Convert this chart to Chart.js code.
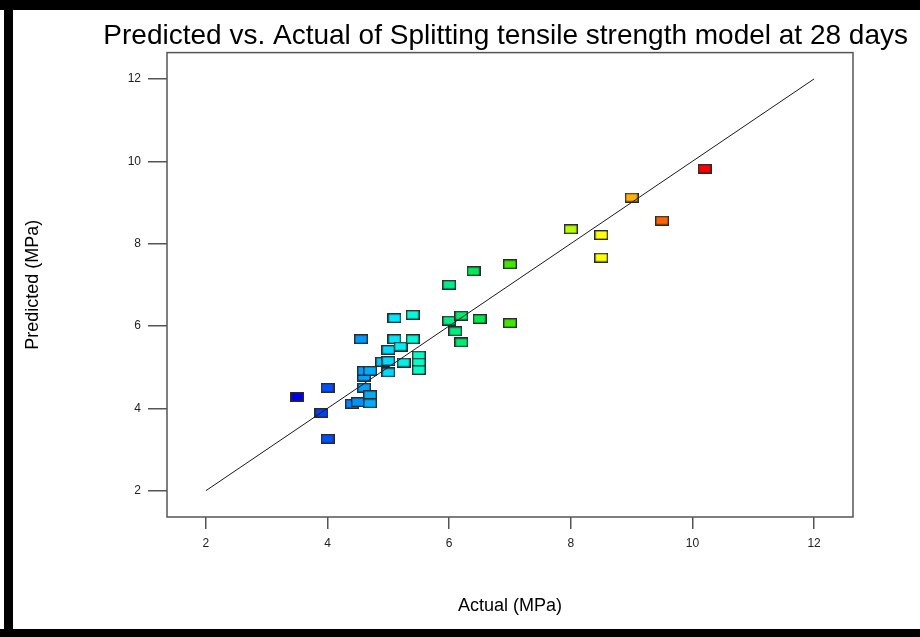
<!DOCTYPE html>
<html>
<head>
<meta charset="utf-8">
<script src="https://cdn.jsdelivr.net/npm/chart.js@4/dist/chart.umd.min.js"></script>
<style>
	body { margin:0; background:#fff; }
	#wrap { position:relative; width:920px; height:637px; overflow:hidden; }
	#wrap canvas { position:absolute; left:0; top:0; }
	.band { position:absolute; background:#000; pointer-events:none; }
</style>
</head>
<body>
<div id="wrap">
	<canvas id="fitChart" width="920" height="637"></canvas>
	<div class="band" style="left:0;top:0;width:920px;height:10px"></div>
	<div class="band" style="left:4px;top:0;width:9px;height:637px"></div>
	<div class="band" style="left:0;top:629px;width:920px;height:8px"></div>
</div>
<script>
var actual = [
	3.5, 3.9, 4.0, 4.0, 4.4, 4.5, 4.6, 4.6, 4.6, 4.55,
	4.7, 4.7, 4.7, 4.9, 5.0, 5.0, 5.0, 5.1, 5.1, 5.2,
	5.25, 5.4, 5.4, 5.5, 5.5, 5.5, 6.0, 6.0, 6.1, 6.2,
	6.2, 6.4, 6.5, 7.0, 7.0, 8.0, 8.5, 8.5, 9.0, 9.5,
	10.2
]
var predicted = [
	4.28, 3.89, 4.5, 3.26, 4.11, 4.15, 4.5, 4.77, 4.91, 5.68,
	4.91, 4.32, 4.12, 5.13, 5.15, 4.87, 5.42, 5.68, 6.19, 5.5,
	5.11, 6.27, 5.68, 5.28, 5.11, 4.93, 7.0, 6.13, 5.87, 5.6,
	6.25, 7.33, 6.17, 7.5, 6.07, 8.35, 8.21, 7.66, 9.12, 8.56,
	9.82
]
var fitLine = [2, 12]
var xTicks = [2, 4, 6, 8, 10, 12]
var yTicks = [2, 4, 6, 8, 10, 12]
var axisMin = 1.36
var axisMax = 12.64

// rainbow scale, coloured by the actual value
var colorStops = [
	[3.5,'#0000e0'], [4.0,'#0050ff'], [4.6,'#00a0ff'], [5.1,'#00e8ff'],
	[5.5,'#00ffc8'], [6.0,'#00ef8a'], [6.5,'#00e84a'], [7.0,'#3ee600'],
	[8.0,'#b4ff00'], [8.5,'#ffff00'], [9.0,'#ffb000'], [9.5,'#ff6400'],
	[10.2,'#ff0000']
]

function hexRgb( h ) {
	return [ parseInt(h.substr(1,2),16), parseInt(h.substr(3,2),16), parseInt(h.substr(5,2),16) ]
}

function rampColor( v ) {
	if( v <= colorStops[0][0] ) return colorStops[0][1]
	for( var i = 1; i < colorStops.length; i++ ) {
		if( v <= colorStops[i][0] ) {
			var a = hexRgb(colorStops[i-1][1]), b = hexRgb(colorStops[i][1])
			var t = (v - colorStops[i-1][0]) / (colorStops[i][0] - colorStops[i-1][0])
			return 'rgb(' + Math.round(a[0]+(b[0]-a[0])*t) + ',' + Math.round(a[1]+(b[1]-a[1])*t) + ',' + Math.round(a[2]+(b[2]-a[2])*t) + ')'
		}
	}
	return colorStops[colorStops.length-1][1]
}

// small rectangle marker
function rectMarker( color ) {
	var c = document.createElement('canvas')
	c.width = 14
	c.height = 10
	var g = c.getContext('2d')
	g.fillStyle = color
	g.fillRect(0, 0, 14, 10)
	g.strokeStyle = '#2a2a2a'
	g.lineWidth = 1.4
	g.strokeRect(0.7, 0.7, 12.6, 8.6)
	return c
}

var points = []
var markers = []
for( var i = 0; i < actual.length; i++ ) {
	points.push({ x:actual[i], y:predicted[i] })
	markers.push( rectMarker(rampColor(actual[i])) )
}

// box round the plot area
var frame = {
	id: 'frame',
	afterDraw: function( chart ) {
		var a = chart.chartArea, g = chart.ctx
		g.save()
		g.strokeStyle = '#555'
		g.lineWidth = 1.5
		g.strokeRect(a.left, a.top, a.right - a.left, a.bottom - a.top)
		g.restore()
	}
}

var tickFont = { family:'"Liberation Sans", Arial, sans-serif', size:12 }
var titleFont = { family:'"Liberation Sans", Arial, sans-serif', size:18 }

new Chart( document.getElementById('fitChart'), {
	type: 'scatter',
	data: {
		datasets: [
			{
				label: 'fit',
				data: [ { x:fitLine[0], y:fitLine[0] }, { x:fitLine[1], y:fitLine[1] } ],
				showLine: true,
				borderColor: '#1a1a1a',
				borderWidth: 1,
				pointRadius: 0,
				order: 0
			}, {
				label: 'points',
				data: points,
				pointStyle: markers,
				pointRadius: 6,
				order: 1
			}
		]
	},
	options: {
		responsive: false,
		animation: false,
		devicePixelRatio: 1,
		layout: { padding: { left:0, right:12, top:0, bottom:0 } },
		plugins: {
			legend: { display:false },
			tooltip: { enabled:false },
			title: {
				display: true,
				text: 'Predicted vs. Actual of Splitting tensile strength model at 28 days',
				align: 'end',
				color: '#000',
				font: { family:'"Liberation Sans", Arial, sans-serif', size:28, weight:'normal' },
				padding: { top:19, bottom:0 }
			}
		},
		scales: {
			x: {
				type: 'linear',
				min: axisMin,
				max: axisMax,
				afterBuildTicks: function( s ) { s.ticks = xTicks.map(function(v){ return { value:v } }) },
				afterFit: function( s ) { s.height = 120 },
				grid: { drawOnChartArea:false, drawTicks:true, tickLength:12, color:'#555', lineWidth:1.5 },
				border: { display:false },
				ticks: { color:'#222', font:tickFont, padding:7 },
				title: { display:true, text:'Actual (MPa)', color:'#000', font:titleFont, padding:{ top:0, bottom:20 } }
			},
			y: {
				type: 'linear',
				min: axisMin,
				max: axisMax,
				afterBuildTicks: function( s ) { s.ticks = yTicks.map(function(v){ return { value:v } }) },
				afterFit: function( s ) { s.width = 167 },
				grid: { drawOnChartArea:false, drawTicks:true, tickLength:19, color:'#555', lineWidth:1.5 },
				border: { display:false },
				ticks: { color:'#222', font:tickFont, padding:7 },
				title: { display:true, text:'Predicted (MPa)', color:'#000', font:titleFont, padding:{ top:22, bottom:0 } }
			},
			y2: {
				type: 'linear',
				position: 'right',
				display: true,
				afterFit: function( s ) { s.width = 55 },
				grid: { display:false, drawTicks:false },
				border: { display:false },
				ticks: { display:false }
			}
		}
	},
	plugins: [ frame ]
})
</script>
</body>
</html>
